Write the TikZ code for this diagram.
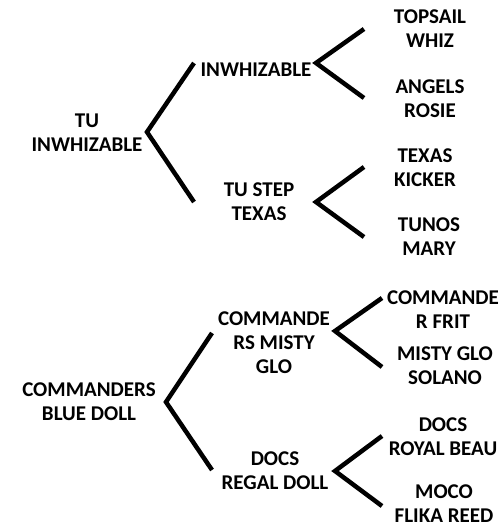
\documentclass[tikz,border=0pt]{standalone}
\usepackage{fontspec}
\setmainfont{Carlito}
\begin{document}
\begin{tikzpicture}[x=1pt,y=-1pt,
  lbl/.style={font=\bfseries\fontsize{21}{24}\selectfont, align=center, inner sep=0pt},
  brk/.style={line width=4.5pt, line join=miter}]
\useasboundingbox (0,0) rectangle (503,526);
% top tree
\node[lbl] (a) at (87,132.5) {TU\\INWHIZABLE};
\node[lbl] (a1) at (256,70) {INWHIZABLE};
\node[lbl] (a2) at (259,201.5) {TU STEP\\TEXAS};
\node[lbl] (a11) at (430,28.5) {TOPSAIL\\WHIZ};
\node[lbl] (a12) at (430,98.5) {ANGELS\\ROSIE};
\node[lbl] (a21) at (425,167.5) {TEXAS\\KICKER};
\node[lbl] (a22) at (429,236.5) {TUNOS\\MARY};
% bottom tree
\node[lbl] (b) at (89,401.5) {COMMANDERS\\BLUE DOLL};
\node[lbl] (b1) at (274,343) {COMMANDE\\RS MISTY\\GLO};
\node[lbl] (b2) at (275,471) {DOCS\\REGAL DOLL};
\node[lbl] (b11) at (443,309.5) {COMMANDE\\R FRIT};
\node[lbl] (b12) at (445,366) {MISTY GLO\\SOLANO};
\node[lbl] (b21) at (443,436.5) {DOCS\\ROYAL BEAU};
\node[lbl] (b22) at (444,503.5) {MOCO\\FLIKA REED};
% bracket points
\coordinate (av) at (147,132); \coordinate (au) at (194,63); \coordinate (ad) at (194,202);
\coordinate (a1v) at (316,63); \coordinate (a1u) at (364,29); \coordinate (a1d) at (364,98);
\coordinate (a2v) at (316,202); \coordinate (a2u) at (364,167); \coordinate (a2d) at (364,237);
\coordinate (bv) at (166,402); \coordinate (bu) at (212,333); \coordinate (bd) at (212,470);
\coordinate (b1v) at (335,331); \coordinate (b1u) at (382,298); \coordinate (b1d) at (382,367);
\coordinate (b2v) at (335,471); \coordinate (b2u) at (382,436); \coordinate (b2d) at (382,506);
\draw[brk] (au) -- (av) -- (ad);
\draw[brk] (a1u) -- (a1v) -- (a1d);
\draw[brk] (a2u) -- (a2v) -- (a2d);
\draw[brk] (bu) -- (bv) -- (bd);
\draw[brk] (b1u) -- (b1v) -- (b1d);
\draw[brk] (b2u) -- (b2v) -- (b2d);
\end{tikzpicture}
\end{document}
